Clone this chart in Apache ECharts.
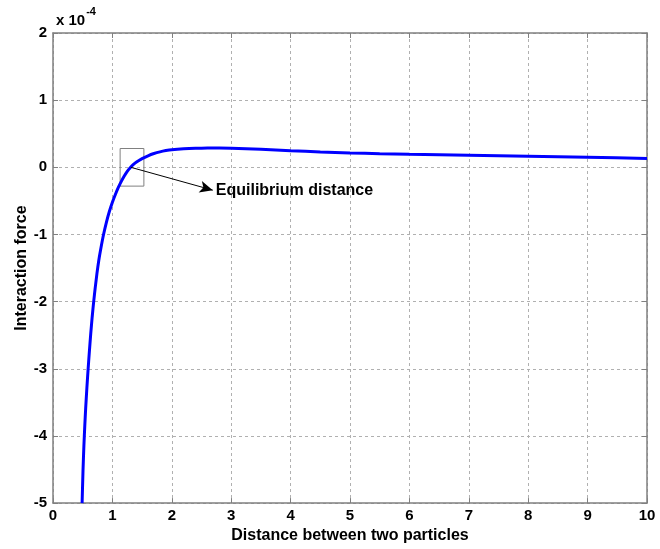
<!DOCTYPE html>
<html>
<head>
<meta charset="utf-8">
<script src="https://cdn.jsdelivr.net/npm/echarts@6/dist/echarts.min.js"></script>
<style>html,body{margin:0;padding:0;background:#fff;}#c{width:660px;height:549px;}</style>
</head>
<body>
<div id="c"></div>
<script>
// Data (force in units of 1e-4)
const distance = [0.49, 0.505, 0.52, 0.535, 0.55, 0.57, 0.59, 0.61, 0.635, 0.66, 0.685, 0.71, 0.74, 0.77, 0.80, 0.85, 0.90, 0.95, 1.00, 1.05, 1.10, 1.15, 1.20, 1.25, 1.30, 1.35, 1.40, 1.50, 1.60, 1.70, 1.80, 1.90, 2.00, 2.20, 2.40, 2.60, 2.80, 3.00, 3.50, 4.00, 4.50, 5.00, 5.50, 6.00, 7.00, 8.00, 9.00, 10.00];
const force = [-5.0, -4.52, -4.15, -3.85, -3.59, -3.29, -3.02, -2.77, -2.48, -2.225, -2.0, -1.80, -1.58, -1.39, -1.235, -1.005, -0.815, -0.655, -0.52, -0.405, -0.30, -0.21, -0.13, -0.06, -0.005, 0.04, 0.075, 0.13, 0.172, 0.205, 0.23, 0.249, 0.263, 0.277, 0.284, 0.286, 0.286, 0.284, 0.268, 0.247, 0.229, 0.214, 0.203, 0.194, 0.179, 0.164, 0.149, 0.132];
const xTicks = [0,1,2,3,4,5,6,7,8,9,10];
const yTicks = [-5,-4,-3,-2,-1,0,1,2];
const boxX = [1.13, 1.53];
const boxY = [-0.28, 0.28];
const arrowFrom = [1.31, 0.0];
const arrowTo = [2.69, -0.34];
const annotation = 'Equilibrium distance';

const chart = echarts.init(document.getElementById('c'));
const font = 'Arial, "Liberation Sans", sans-serif';
const gridLine = {show: true, lineStyle: {color: '#b0b0b0', type: [3, 3], width: 1}};
const axisLine = {show: true, onZero: false, lineStyle: {color: '#808080', width: 1.5}};
const tick = {show: true, inside: true, length: 5, lineStyle: {color: '#808080'}};
chart.setOption({
  backgroundColor: '#fff',
  animation: false,
  grid: {left: 53, right: 13, top: 33, bottom: 45, show: false},
  xAxis: [{
    type: 'value', min: 0, max: 10, interval: 1, position: 'bottom',
    axisLine: axisLine, axisTick: tick,
    splitLine: gridLine,
    axisLabel: {color: '#000', fontFamily: font, fontWeight: 'bold', fontSize: 15, margin: 5,
      formatter: v => xTicks.includes(v) ? String(v) : ''},
    name: 'Distance between two particles', nameLocation: 'middle', nameGap: 24,
    nameTextStyle: {color: '#000', fontFamily: font, fontWeight: 'bold', fontSize: 16}
  }, {
    type: 'value', min: 0, max: 10, interval: 1, position: 'top',
    axisLine: axisLine, axisTick: tick,
    splitLine: {show: false}, axisLabel: {show: false}
  }],
  yAxis: [{
    type: 'value', min: -5, max: 2, interval: 1, position: 'left',
    axisLine: axisLine, axisTick: tick,
    splitLine: gridLine,
    axisLabel: {color: '#000', fontFamily: font, fontWeight: 'bold', fontSize: 15, margin: 6,
      formatter: v => yTicks.includes(v) ? String(v) : ''},
    name: 'Interaction force', nameLocation: 'middle', nameGap: 23, nameMoveOverlap: false,
    nameTextStyle: {color: '#000', fontFamily: font, fontWeight: 'bold', fontSize: 16}
  }, {
    type: 'value', min: -5, max: 2, interval: 1, position: 'right',
    axisLine: axisLine, axisTick: tick,
    splitLine: {show: false}, axisLabel: {show: false}
  }],
  graphic: [{
    type: 'text', left: 56, top: 6,
    style: {
      text: '{a|x 10}{b|-4}',
      rich: {
        a: {fontFamily: font, fontWeight: 'bold', fontSize: 15, fill: '#000', padding: [7, 0, 0, 0]},
        b: {fontFamily: font, fontWeight: 'bold', fontSize: 11, fill: '#000', verticalAlign: 'top', padding: [0, 0, 9, 1]}
      }
    }
  }],
  series: [{
    type: 'line',
    data: distance.map((d, i) => [d, force[i]]),
    smooth: 0.2,
    showSymbol: false,
    lineStyle: {color: '#0000ff', width: 3},
    itemStyle: {color: '#0000ff'},
    clip: true,
    markArea: {
      silent: true,
      itemStyle: {color: 'rgba(0,0,0,0)', borderColor: '#808080', borderWidth: 1},
      data: [[{coord: [boxX[0], boxY[1]]}, {coord: [boxX[1], boxY[0]]}]]
    },
    markLine: {
      silent: true,
      symbol: ['none', 'arrow'],
      symbolSize: [9, 13],
      lineStyle: {color: '#000', width: 1, type: 'solid'},
      label: {show: false},
      data: [[{coord: arrowFrom}, {coord: arrowTo}]]
    },
    markPoint: {
      silent: true,
      symbol: 'circle', symbolSize: 0,
      label: {show: true, position: 'right', distance: 3, formatter: annotation, color: '#000',
        fontFamily: font, fontWeight: 'bold', fontSize: 16},
      data: [{coord: arrowTo}]
    }
  }]
});
</script>
</body>
</html>
